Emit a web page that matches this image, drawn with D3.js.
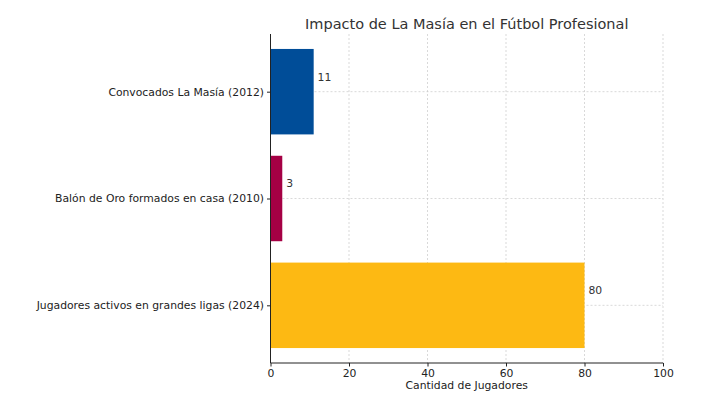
<!DOCTYPE html>
<html><head><meta charset="utf-8">
<script src="https://cdn.jsdelivr.net/npm/d3@7"></script>
<style>body{margin:0;background:#fff;} text{font-family:"DejaVu Sans",sans-serif;}</style>
</head><body>
<svg id="c" width="708" height="397"></svg>
<script>
const categories = ["Convocados La Masía (2012)", "Balón de Oro formados en casa (2010)", "Jugadores activos en grandes ligas (2024)"];
const values = [11, 3, 80];
const colors = ["#004D98", "#A50044", "#FDB913"];
const xTicks = [0, 20, 40, 60, 80, 100];
const title = "Impacto de La Masía en el Fútbol Profesional";
const xLabel = "Cantidad de Jugadores";

const svg = d3.select("#c");
const L = 270.5, R = 663, T = 34, B = 363;
const x = d3.scaleLinear().domain([0, 100]).range([L, R]);
const y = d3.scaleLinear().domain([-0.54, 2.54]).range([T, B]);
const bh = y(0.4) - y(-0.4);
const fs = 10.8;

// grid
svg.append("g").selectAll("line").data(xTicks).join("line")
  .attr("x1", d => x(d)).attr("x2", d => x(d)).attr("y1", T).attr("y2", B)
  .attr("stroke", "#c8c8c8").attr("stroke-width", 0.7).attr("stroke-dasharray", "2,2");
svg.append("g").selectAll("line").data(categories).join("line")
  .attr("x1", L).attr("x2", R).attr("y1", (d, i) => y(i)).attr("y2", (d, i) => y(i))
  .attr("stroke", "#c8c8c8").attr("stroke-width", 0.7).attr("stroke-dasharray", "2,2");

// bars
svg.append("g").selectAll("rect").data(values).join("rect")
  .attr("x", x(0)).attr("y", (d, i) => y(i) - bh / 2)
  .attr("width", d => x(d) - x(0)).attr("height", bh)
  .attr("fill", (d, i) => colors[i]);

// value labels
svg.append("g").selectAll("text").data(values).join("text")
  .attr("x", d => x(d + 1)).attr("y", (d, i) => y(i - 0.14))
  .attr("dy", "0.35em").attr("font-size", fs).attr("fill", "#333")
  .text(d => d);

// x axis
const xa = svg.append("g").attr("transform", `translate(0,${B})`)
  .call(d3.axisBottom(x).tickValues(xTicks).tickSize(3.5).tickPadding(3));
xa.select(".domain").attr("d", `M${L},0H${R}`).attr("stroke", "#222").attr("stroke-width", 1);
xa.selectAll("text").attr("font-size", fs).attr("fill", "#222").attr("font-family", "DejaVu Sans");
xa.selectAll("line").attr("stroke", "#222");

// y axis
const ya = svg.append("g").attr("transform", `translate(${L},0)`)
  .call(d3.axisLeft(y).tickValues([0, 1, 2]).tickFormat(i => categories[i]).tickSize(3.5).tickPadding(3));
ya.select(".domain").attr("d", `M0,${T}V${B}`).attr("stroke", "#222").attr("stroke-width", 1);
ya.selectAll("text").attr("font-size", fs).attr("fill", "#222").attr("font-family", "DejaVu Sans");
ya.selectAll("line").attr("stroke", "#222");

svg.append("text").attr("x", (L + R) / 2).attr("y", 389).attr("text-anchor", "middle")
  .attr("font-size", fs).attr("fill", "#222").text(xLabel);
svg.append("text").attr("x", (L + R) / 2).attr("y", 29).attr("text-anchor", "middle")
  .attr("font-size", 14.5).attr("fill", "#333").text(title);
</script>
</body></html>
